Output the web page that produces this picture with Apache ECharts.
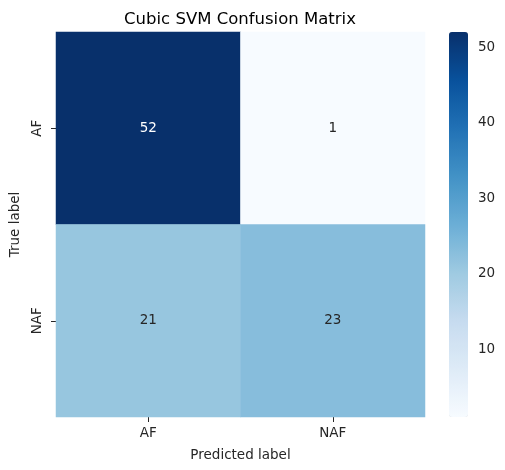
<!DOCTYPE html>
<html>
<head>
<meta charset="utf-8">
<script src="https://cdn.jsdelivr.net/npm/echarts@6/dist/echarts.min.js"></script>
<style>html,body{margin:0;padding:0;background:#fff}#c{width:505px;height:470px}</style>
</head>
<body>
<div id="c"></div>
<script>
var titleText = 'Cubic SVM Confusion Matrix';
var predictedLabels = ['AF', 'NAF'];
var trueLabels = ['AF', 'NAF'];
var rowAF = [52, 1];
var rowNAF = [21, 23];
var colorbarTicks = [10, 20, 30, 40, 50];
var valueMin = 1;
var valueMax = 52;

var rows = [rowAF, rowNAF];
var data = [];
rows.forEach(function (row, i) {
  row.forEach(function (v, j) {
    data.push({ value: [j, i, v], label: { color: v > 35 ? '#ffffff' : '#262626' } });
  });
});

var font = 'DejaVu Sans';
var chart = echarts.init(document.getElementById('c'));
chart.setOption({
  animation: false,
  backgroundColor: '#ffffff',
  textStyle: { fontFamily: font },
  title: {
    text: titleText,
    left: 235, top: 6, textAlign: 'center',
    textStyle: { fontFamily: font, fontSize: 16.5, fontWeight: 'normal', color: '#000' }
  },
  grid: [
    { left: 53, top: 32, width: 372, height: 385 },
    { left: 449, top: 32, width: 19, height: 385 }
  ],
  xAxis: [
    {
      type: 'category', data: predictedLabels, gridIndex: 0,
      name: 'Predicted label', nameLocation: 'middle', nameGap: 31,
      nameTextStyle: { fontFamily: font, fontSize: 13.5, color: '#262626' },
      axisLine: { show: false },
      axisTick: { show: true, alignWithLabel: true, length: 5, lineStyle: { color: '#262626' } },
      axisLabel: { fontFamily: font, fontSize: 13.5, color: '#262626', margin: 9 },
      splitLine: { show: false }
    },
    { type: 'value', gridIndex: 1, show: false, min: 0, max: 1 }
  ],
  yAxis: [
    {
      type: 'category', data: trueLabels, gridIndex: 0, inverse: true,
      name: 'True label', nameLocation: 'middle', nameGap: 34, nameRotate: 90,
      nameTextStyle: { fontFamily: font, fontSize: 13.5, color: '#262626' },
      axisLine: { show: false },
      axisTick: { show: true, alignWithLabel: true, length: 5, lineStyle: { color: '#262626' } },
      axisLabel: { fontFamily: font, fontSize: 13.5, color: '#262626', rotate: 90, margin: 12 },
      splitLine: { show: false }
    },
    {
      type: 'value', gridIndex: 1, position: 'right', min: valueMin, max: valueMax,
      axisLine: { show: false },
      axisTick: { show: true, length: 5, customValues: colorbarTicks, lineStyle: { color: '#262626' } },
      axisLabel: { fontFamily: font, fontSize: 13.5, color: '#262626', margin: 10, customValues: colorbarTicks },
      splitLine: { show: false }
    }
  ],
  visualMap: {
    type: 'continuous', min: valueMin, max: valueMax, seriesIndex: 0,
    calculable: false, orient: 'vertical',
    left: 449, top: 32, itemWidth: 19, itemHeight: 385, padding: 0,
    text: null, showLabel: false, hoverLink: false,
    inRange: { color: ['#f7fbff', '#deebf7', '#c6dbef', '#9ecae1', '#6baed6', '#4292c6', '#2171b5', '#08519c', '#08306b'] }
  },
  series: [{
    type: 'heatmap', xAxisIndex: 0, yAxisIndex: 0, data: data,
    label: { show: true, fontFamily: font, fontSize: 13.5, formatter: function (p) { return p.value[2]; } },
    itemStyle: { borderWidth: 0 },
    emphasis: { disabled: true }
  }]
});
</script>
</body>
</html>
